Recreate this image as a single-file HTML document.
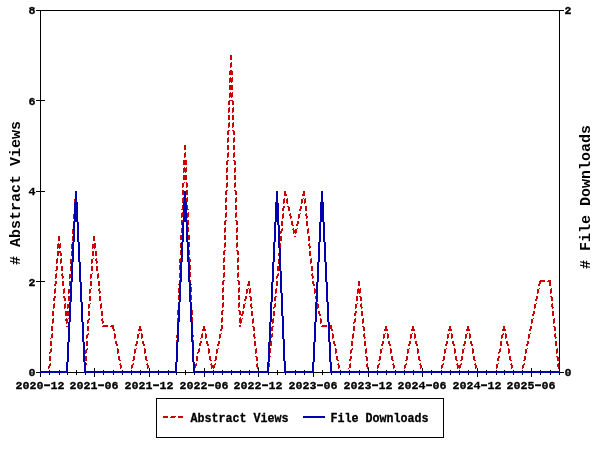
<!DOCTYPE html>
<html><head><meta charset="utf-8"><title>Abstract Views / File Downloads</title>
<style>
html,body{margin:0;padding:0;background:#fff;}
body{width:600px;height:450px;overflow:hidden;font-family:"Liberation Mono",monospace;}
svg{display:block;}
text{font-family:"Liberation Mono",monospace;fill:#000;stroke:#000;stroke-width:0.3px;stroke-linejoin:round;}
.t{font-weight:bold;font-size:11.9px;}
.d{font-weight:bold;font-size:11.7px;}
.h{font-weight:normal;font-size:21px;}
.g{font-weight:bold;font-size:15px;stroke-width:0;}
</style></head><body>
<svg width="600" height="450" viewBox="0 0 600 450">
<rect x="0" y="0" width="600" height="450" fill="#ffffff"/>
<g shape-rendering="crispEdges">
<path fill="#000" d="M40 10h520v1h-520zM40 10h1v367h-1zM559 10h1v363h-1zM40 372h520v1h-520zM36 281h9v1h-9zM36 191h9v1h-9zM36 100h9v1h-9zM36 372h4v1h-4zM36 10h4v1h-4zM560 10h4v1h-4zM560 372h4v1h-4zM40 368h1v9h-1zM49 370h1v5h-1zM59 370h1v5h-1zM67 370h1v5h-1zM76 370h1v5h-1zM85 370h1v5h-1zM94 368h1v9h-1zM103 370h1v5h-1zM113 370h1v5h-1zM122 370h1v5h-1zM131 370h1v5h-1zM140 370h1v5h-1zM149 368h1v9h-1zM158 370h1v5h-1zM168 370h1v5h-1zM176 370h1v5h-1zM185 370h1v5h-1zM194 370h1v5h-1zM204 368h1v9h-1zM213 370h1v5h-1zM222 370h1v5h-1zM231 370h1v5h-1zM240 370h1v5h-1zM249 370h1v5h-1zM258 368h1v9h-1zM268 370h1v5h-1zM277 370h1v5h-1zM285 370h1v5h-1zM295 370h1v5h-1zM304 370h1v5h-1zM313 368h1v9h-1zM322 370h1v5h-1zM331 370h1v5h-1zM340 370h1v5h-1zM349 370h1v5h-1zM359 370h1v5h-1zM368 368h1v9h-1zM377 370h1v5h-1zM386 370h1v5h-1zM395 370h1v5h-1zM404 370h1v5h-1zM413 370h1v5h-1zM422 368h1v9h-1zM431 370h1v5h-1zM441 370h1v5h-1zM450 370h1v5h-1zM459 370h1v5h-1zM468 370h1v5h-1zM477 368h1v9h-1zM486 370h1v5h-1zM496 370h1v5h-1zM504 370h1v5h-1zM513 370h1v5h-1zM522 370h1v5h-1zM531 368h1v9h-1zM540 370h1v5h-1zM550 370h1v5h-1zM559 370h1v5h-1z"/>
<path fill="#cc0000" d="M230 55h2v5h-2zM231 62h1v1h-1zM230 63h2v4h-2zM230 67h1v1h-1zM230 70h2v1h-2zM229 71h4v4h-4zM230 77h1v1h-1zM232 77h1v1h-1zM229 78h4v4h-4zM229 82h1v1h-1zM231 82h1v1h-1zM229 85h4v5h-4zM230 92h1v1h-1zM232 92h1v1h-1zM229 93h4v4h-4zM229 97h1v1h-1zM231 97h1v1h-1zM229 100h4v1h-4zM228 101h2v4h-2zM232 101h2v4h-2zM229 107h1v1h-1zM233 107h1v1h-1zM228 108h2v4h-2zM232 108h2v4h-2zM228 112h1v1h-1zM232 112h1v1h-1zM228 115h2v5h-2zM232 115h2v5h-2zM229 122h1v1h-1zM233 122h1v1h-1zM228 123h2v4h-2zM232 123h2v4h-2zM228 127h1v1h-1zM232 127h1v1h-1zM228 130h2v1h-2zM232 130h2v1h-2zM227 131h2v4h-2zM233 131h2v4h-2zM228 137h1v1h-1zM234 137h1v1h-1zM227 138h2v4h-2zM233 138h2v4h-2zM227 142h1v1h-1zM233 142h1v1h-1zM184 145h2v5h-2zM227 145h2v5h-2zM233 145h2v5h-2zM185 152h1v1h-1zM228 152h1v1h-1zM234 152h1v1h-1zM184 153h2v4h-2zM227 153h2v4h-2zM233 153h2v4h-2zM184 157h1v1h-1zM227 157h1v1h-1zM233 157h1v1h-1zM183 160h4v5h-4zM227 160h2v1h-2zM233 160h2v1h-2zM226 161h2v4h-2zM234 161h2v4h-2zM184 167h1v1h-1zM186 167h1v1h-1zM227 167h1v1h-1zM235 167h1v1h-1zM183 168h4v4h-4zM226 168h2v4h-2zM234 168h2v4h-2zM183 172h1v1h-1zM185 172h1v1h-1zM226 172h1v1h-1zM234 172h1v1h-1zM183 175h4v5h-4zM226 175h2v5h-2zM234 175h2v5h-2zM184 182h1v1h-1zM186 182h1v1h-1zM227 182h1v1h-1zM235 182h1v1h-1zM182 183h2v4h-2zM186 183h2v4h-2zM226 183h2v4h-2zM234 183h2v4h-2zM182 187h1v1h-1zM186 187h1v1h-1zM226 187h1v1h-1zM234 187h1v1h-1zM182 190h2v5h-2zM186 190h2v5h-2zM226 190h2v1h-2zM234 190h2v1h-2zM75 191h2v5h-2zM225 191h2v4h-2zM235 191h2v4h-2zM284 191h2v3h-2zM303 191h2v3h-2zM284 194h3v2h-3zM302 194h3v2h-3zM183 197h1v1h-1zM187 197h1v1h-1zM226 197h1v1h-1zM236 197h1v1h-1zM76 198h1v1h-1zM182 198h2v4h-2zM186 198h2v4h-2zM225 198h2v4h-2zM235 198h2v4h-2zM284 198h1v1h-1zM287 198h1v1h-1zM303 198h1v1h-1zM305 198h1v1h-1zM74 199h3v3h-3zM283 199h2v4h-2zM286 199h2v4h-2zM301 199h2v4h-2zM304 199h2v4h-2zM74 202h4v1h-4zM182 202h1v1h-1zM186 202h1v1h-1zM225 202h1v1h-1zM235 202h1v1h-1zM74 203h1v1h-1zM76 203h1v1h-1zM283 203h1v1h-1zM287 203h1v1h-1zM301 203h1v1h-1zM304 203h1v1h-1zM182 205h2v4h-2zM186 205h2v4h-2zM225 205h2v5h-2zM235 205h2v5h-2zM74 206h4v5h-4zM283 206h2v2h-2zM287 206h2v1h-2zM300 206h2v3h-2zM305 206h2v5h-2zM288 207h2v4h-2zM282 208h2v3h-2zM181 209h2v1h-2zM187 209h2v1h-2zM299 209h2v2h-2zM182 212h1v1h-1zM188 212h1v1h-1zM226 212h1v1h-1zM236 212h1v1h-1zM75 213h1v1h-1zM77 213h1v1h-1zM181 213h2v4h-2zM187 213h2v4h-2zM225 213h2v4h-2zM235 213h2v4h-2zM283 213h1v1h-1zM290 213h1v1h-1zM300 213h1v1h-1zM306 213h1v1h-1zM73 214h2v4h-2zM76 214h2v4h-2zM282 214h2v4h-2zM289 214h2v2h-2zM298 214h2v4h-2zM305 214h2v2h-2zM290 216h2v2h-2zM306 216h2v2h-2zM181 217h1v1h-1zM187 217h1v1h-1zM225 217h1v1h-1zM235 217h1v1h-1zM73 218h1v1h-1zM76 218h1v1h-1zM282 218h1v1h-1zM290 218h1v1h-1zM298 218h1v1h-1zM306 218h1v1h-1zM181 220h2v5h-2zM187 220h2v5h-2zM225 220h2v1h-2zM235 220h2v1h-2zM73 221h2v5h-2zM76 221h2v1h-2zM224 221h2v4h-2zM236 221h2v4h-2zM281 221h2v5h-2zM291 221h2v4h-2zM297 221h2v3h-2zM306 221h2v5h-2zM77 222h2v4h-2zM296 224h2v2h-2zM292 225h2v1h-2zM182 227h1v1h-1zM188 227h1v1h-1zM225 227h1v1h-1zM237 227h1v1h-1zM74 228h1v1h-1zM78 228h1v1h-1zM181 228h2v4h-2zM187 228h2v4h-2zM224 228h2v4h-2zM236 228h2v4h-2zM282 228h1v1h-1zM293 228h1v1h-1zM297 228h1v1h-1zM308 228h1v1h-1zM72 229h2v4h-2zM77 229h2v4h-2zM281 229h2v2h-2zM292 229h2v1h-2zM295 229h2v1h-2zM307 229h2v4h-2zM293 230h4v3h-4zM280 231h2v2h-2zM181 232h1v1h-1zM187 232h1v1h-1zM224 232h1v1h-1zM236 232h1v1h-1zM72 233h1v1h-1zM77 233h1v1h-1zM280 233h1v1h-1zM293 233h1v1h-1zM295 233h1v1h-1zM307 233h1v1h-1zM180 235h2v5h-2zM188 235h2v5h-2zM224 235h2v5h-2zM236 235h2v5h-2zM58 236h2v5h-2zM72 236h2v5h-2zM77 236h2v5h-2zM93 236h2v5h-2zM280 236h2v5h-2zM294 236h2v1h-2zM308 236h2v5h-2zM181 242h1v1h-1zM189 242h1v1h-1zM225 242h1v1h-1zM237 242h1v1h-1zM58 243h1v1h-1zM60 243h1v1h-1zM73 243h1v1h-1zM79 243h1v1h-1zM94 243h2v1h-2zM180 243h2v4h-2zM188 243h2v4h-2zM224 243h2v4h-2zM236 243h2v4h-2zM280 243h1v1h-1zM309 243h1v1h-1zM57 244h4v4h-4zM71 244h2v4h-2zM78 244h2v4h-2zM92 244h4v4h-4zM279 244h2v4h-2zM308 244h2v2h-2zM309 246h2v2h-2zM180 247h1v1h-1zM188 247h1v1h-1zM224 247h1v1h-1zM236 247h1v1h-1zM57 248h1v1h-1zM59 248h1v1h-1zM71 248h1v1h-1zM78 248h1v1h-1zM92 248h1v1h-1zM94 248h1v1h-1zM279 248h1v1h-1zM309 248h1v1h-1zM180 250h2v5h-2zM188 250h2v5h-2zM224 250h2v1h-2zM236 250h2v1h-2zM57 251h4v2h-4zM71 251h2v5h-2zM78 251h2v5h-2zM92 251h2v5h-2zM95 251h2v5h-2zM223 251h2v4h-2zM237 251h2v4h-2zM279 251h2v2h-2zM309 251h2v5h-2zM57 253h2v3h-2zM60 253h2v3h-2zM278 253h2v3h-2zM181 257h1v1h-1zM189 257h1v1h-1zM224 257h1v1h-1zM238 257h1v1h-1zM57 258h1v1h-1zM61 258h1v1h-1zM72 258h1v1h-1zM79 258h1v1h-1zM93 258h1v1h-1zM96 258h1v1h-1zM180 258h2v1h-2zM188 258h2v1h-2zM223 258h2v4h-2zM237 258h2v4h-2zM279 258h1v1h-1zM311 258h1v1h-1zM56 259h2v4h-2zM60 259h2v4h-2zM70 259h2v4h-2zM78 259h2v3h-2zM91 259h2v4h-2zM95 259h2v2h-2zM179 259h2v3h-2zM189 259h2v3h-2zM278 259h2v4h-2zM310 259h2v4h-2zM96 261h2v2h-2zM79 262h2v1h-2zM179 262h1v1h-1zM189 262h1v1h-1zM223 262h1v1h-1zM237 262h1v1h-1zM56 263h1v1h-1zM60 263h1v1h-1zM70 263h1v1h-1zM79 263h1v1h-1zM91 263h1v1h-1zM96 263h1v1h-1zM278 263h1v1h-1zM310 263h1v1h-1zM179 265h2v5h-2zM189 265h2v5h-2zM223 265h2v5h-2zM237 265h2v5h-2zM56 266h2v4h-2zM61 266h2v5h-2zM70 266h2v5h-2zM79 266h2v5h-2zM91 266h2v5h-2zM96 266h2v5h-2zM277 266h2v5h-2zM311 266h2v5h-2zM55 270h2v1h-2zM180 272h1v1h-1zM190 272h1v1h-1zM224 272h1v1h-1zM238 272h1v1h-1zM56 273h1v1h-1zM62 273h1v1h-1zM71 273h1v1h-1zM80 273h1v1h-1zM92 273h1v1h-1zM98 273h1v1h-1zM179 273h2v4h-2zM189 273h2v4h-2zM223 273h2v4h-2zM237 273h2v4h-2zM278 273h1v1h-1zM312 273h1v1h-1zM55 274h2v4h-2zM61 274h2v2h-2zM69 274h2v4h-2zM79 274h2v4h-2zM90 274h2v4h-2zM97 274h2v4h-2zM277 274h2v2h-2zM311 274h2v2h-2zM62 276h2v2h-2zM276 276h2v2h-2zM312 276h2v2h-2zM179 277h1v1h-1zM189 277h1v1h-1zM223 277h1v1h-1zM237 277h1v1h-1zM55 278h1v1h-1zM62 278h1v1h-1zM69 278h1v1h-1zM79 278h1v1h-1zM90 278h1v1h-1zM97 278h1v1h-1zM276 278h1v1h-1zM312 278h1v1h-1zM179 280h2v4h-2zM189 280h2v4h-2zM223 280h2v1h-2zM237 280h2v1h-2zM540 280h5v1h-5zM548 280h3v1h-3zM55 281h2v3h-2zM62 281h2v5h-2zM69 281h2v5h-2zM79 281h2v1h-2zM90 281h2v5h-2zM98 281h2v5h-2zM222 281h2v4h-2zM238 281h2v4h-2zM248 281h2v3h-2zM276 281h2v5h-2zM312 281h2v3h-2zM358 281h2v5h-2zM539 281h6v1h-6zM547 281h4v1h-4zM80 282h2v4h-2zM539 282h2v2h-2zM549 282h2v4h-2zM54 284h2v2h-2zM178 284h2v1h-2zM190 284h2v1h-2zM247 284h3v2h-3zM313 284h2v2h-2zM538 284h2v2h-2zM179 287h1v1h-1zM191 287h1v1h-1zM223 287h1v1h-1zM239 287h1v1h-1zM55 288h1v1h-1zM64 288h1v1h-1zM70 288h1v1h-1zM81 288h1v1h-1zM91 288h1v1h-1zM99 288h1v1h-1zM178 288h2v4h-2zM190 288h2v4h-2zM222 288h2v4h-2zM238 288h2v4h-2zM248 288h1v1h-1zM250 288h1v1h-1zM276 288h1v1h-1zM314 288h1v1h-1zM358 288h1v1h-1zM360 288h1v1h-1zM539 288h1v1h-1zM551 288h1v1h-1zM54 289h2v4h-2zM63 289h2v4h-2zM68 289h2v4h-2zM80 289h2v4h-2zM89 289h2v4h-2zM98 289h2v2h-2zM246 289h2v4h-2zM249 289h2v4h-2zM275 289h2v4h-2zM314 289h2v4h-2zM357 289h4v4h-4zM537 289h2v4h-2zM550 289h2v4h-2zM99 291h2v2h-2zM178 292h1v1h-1zM190 292h1v1h-1zM222 292h1v1h-1zM238 292h1v1h-1zM54 293h1v1h-1zM63 293h1v1h-1zM68 293h1v1h-1zM80 293h1v1h-1zM89 293h1v1h-1zM99 293h1v1h-1zM246 293h1v1h-1zM249 293h1v1h-1zM275 293h1v1h-1zM314 293h1v1h-1zM357 293h1v1h-1zM359 293h1v1h-1zM537 293h1v1h-1zM550 293h1v1h-1zM178 295h2v5h-2zM190 295h2v5h-2zM222 295h2v5h-2zM238 295h2v5h-2zM54 296h2v2h-2zM63 296h2v2h-2zM68 296h2v5h-2zM80 296h2v5h-2zM89 296h2v5h-2zM99 296h2v5h-2zM245 296h2v3h-2zM249 296h2v1h-2zM275 296h2v1h-2zM315 296h2v3h-2zM356 296h2v5h-2zM359 296h2v1h-2zM536 296h2v3h-2zM550 296h2v1h-2zM250 297h2v4h-2zM274 297h2v4h-2zM360 297h2v4h-2zM551 297h2v4h-2zM53 298h2v3h-2zM64 298h2v3h-2zM244 299h2v2h-2zM316 299h2v2h-2zM535 299h2v2h-2zM179 302h1v1h-1zM191 302h1v1h-1zM223 302h1v1h-1zM239 302h1v1h-1zM54 303h1v1h-1zM65 303h1v1h-1zM69 303h1v1h-1zM82 303h1v1h-1zM90 303h1v1h-1zM101 303h1v1h-1zM178 303h2v4h-2zM190 303h2v4h-2zM222 303h2v4h-2zM238 303h2v4h-2zM245 303h1v1h-1zM251 303h1v1h-1zM275 303h1v1h-1zM317 303h1v1h-1zM357 303h1v1h-1zM361 303h1v1h-1zM536 303h1v1h-1zM552 303h1v1h-1zM53 304h2v4h-2zM64 304h2v4h-2zM67 304h2v4h-2zM81 304h2v4h-2zM88 304h2v4h-2zM100 304h2v4h-2zM243 304h2v4h-2zM250 304h2v3h-2zM274 304h2v3h-2zM317 304h2v4h-2zM355 304h2v4h-2zM360 304h2v3h-2zM534 304h2v4h-2zM551 304h2v3h-2zM178 307h1v1h-1zM190 307h1v1h-1zM222 307h1v1h-1zM238 307h1v1h-1zM251 307h2v1h-2zM273 307h2v1h-2zM361 307h2v1h-2zM552 307h2v1h-2zM53 308h1v1h-1zM64 308h1v1h-1zM67 308h1v1h-1zM81 308h1v1h-1zM88 308h1v1h-1zM100 308h1v1h-1zM243 308h1v1h-1zM251 308h1v1h-1zM273 308h1v1h-1zM317 308h1v1h-1zM355 308h1v1h-1zM361 308h1v1h-1zM534 308h1v1h-1zM552 308h1v1h-1zM177 310h2v5h-2zM191 310h2v5h-2zM222 310h2v1h-2zM238 310h2v1h-2zM52 311h2v5h-2zM65 311h4v5h-4zM81 311h2v5h-2zM88 311h2v5h-2zM101 311h2v5h-2zM221 311h2v4h-2zM239 311h2v3h-2zM242 311h2v3h-2zM251 311h2v5h-2zM273 311h2v5h-2zM318 311h2v3h-2zM355 311h2v2h-2zM361 311h2v5h-2zM533 311h2v3h-2zM552 311h2v5h-2zM354 313h2v3h-2zM239 314h4v1h-4zM319 314h2v2h-2zM532 314h2v2h-2zM241 315h2v1h-2zM178 317h1v1h-1zM192 317h1v1h-1zM222 317h1v1h-1zM240 317h1v1h-1zM53 318h1v1h-1zM66 318h1v1h-1zM68 318h1v1h-1zM82 318h1v1h-1zM89 318h1v1h-1zM102 318h1v1h-1zM177 318h2v4h-2zM191 318h2v4h-2zM221 318h2v4h-2zM239 318h2v1h-2zM242 318h1v1h-1zM253 318h1v1h-1zM273 318h1v1h-1zM320 318h1v1h-1zM355 318h1v1h-1zM363 318h1v1h-1zM533 318h1v1h-1zM554 318h1v1h-1zM52 319h2v4h-2zM65 319h3v2h-3zM81 319h2v3h-2zM88 319h2v1h-2zM101 319h2v2h-2zM239 319h3v4h-3zM252 319h2v4h-2zM272 319h2v4h-2zM320 319h2v4h-2zM354 319h2v3h-2zM362 319h2v4h-2zM531 319h2v4h-2zM553 319h2v4h-2zM87 320h2v3h-2zM66 321h2v2h-2zM102 321h2v2h-2zM82 322h2v1h-2zM177 322h1v1h-1zM191 322h1v1h-1zM221 322h1v1h-1zM353 322h2v1h-2zM52 323h1v1h-1zM66 323h1v1h-1zM82 323h1v1h-1zM87 323h1v1h-1zM102 323h1v1h-1zM240 323h1v1h-1zM252 323h1v1h-1zM272 323h1v1h-1zM320 323h1v1h-1zM353 323h1v1h-1zM362 323h1v1h-1zM531 323h1v1h-1zM553 323h1v1h-1zM103 325h5v1h-5zM111 325h3v1h-3zM177 325h2v5h-2zM191 325h2v5h-2zM221 325h2v4h-2zM239 325h2v2h-2zM322 325h5v1h-5zM330 325h2v1h-2zM51 326h2v5h-2zM66 326h2v1h-2zM82 326h2v5h-2zM87 326h2v5h-2zM102 326h6v1h-6zM110 326h4v1h-4zM139 326h2v3h-2zM203 326h2v3h-2zM252 326h2v1h-2zM272 326h2v1h-2zM321 326h6v1h-6zM329 326h3v1h-3zM353 326h2v5h-2zM362 326h2v1h-2zM385 326h2v3h-2zM412 326h2v3h-2zM449 326h2v3h-2zM467 326h2v3h-2zM503 326h2v3h-2zM530 326h2v3h-2zM553 326h2v1h-2zM112 327h2v2h-2zM253 327h2v4h-2zM271 327h2v4h-2zM330 327h2v2h-2zM363 327h2v4h-2zM554 327h2v4h-2zM113 329h2v2h-2zM138 329h4v2h-4zM202 329h4v2h-4zM220 329h2v2h-2zM331 329h2v2h-2zM384 329h4v2h-4zM411 329h4v2h-4zM448 329h4v2h-4zM466 329h4v2h-4zM502 329h4v2h-4zM529 329h2v2h-2zM178 332h1v1h-1zM192 332h1v1h-1zM52 333h1v1h-1zM83 333h1v1h-1zM88 333h1v1h-1zM114 333h1v1h-1zM139 333h1v1h-1zM141 333h1v1h-1zM177 333h2v2h-2zM191 333h2v2h-2zM202 333h1v1h-1zM205 333h1v1h-1zM221 333h1v1h-1zM254 333h1v1h-1zM272 333h1v1h-1zM332 333h1v1h-1zM353 333h1v1h-1zM364 333h1v1h-1zM385 333h1v1h-1zM387 333h1v1h-1zM412 333h1v1h-1zM414 333h1v1h-1zM449 333h1v1h-1zM451 333h1v1h-1zM467 333h1v1h-1zM469 333h1v1h-1zM503 333h1v1h-1zM505 333h1v1h-1zM530 333h1v1h-1zM555 333h1v1h-1zM51 334h2v4h-2zM82 334h2v4h-2zM87 334h2v1h-2zM114 334h2v4h-2zM137 334h2v4h-2zM141 334h2v4h-2zM201 334h2v4h-2zM205 334h2v4h-2zM219 334h2v4h-2zM253 334h2v3h-2zM271 334h2v3h-2zM332 334h2v4h-2zM352 334h2v4h-2zM363 334h2v3h-2zM383 334h2v4h-2zM387 334h2v4h-2zM410 334h2v4h-2zM414 334h2v4h-2zM447 334h2v4h-2zM451 334h2v4h-2zM465 334h2v4h-2zM469 334h2v4h-2zM502 334h2v1h-2zM505 334h2v4h-2zM528 334h2v4h-2zM554 334h2v3h-2zM86 335h2v3h-2zM176 335h2v2h-2zM192 335h2v2h-2zM501 335h2v3h-2zM176 337h1v1h-1zM192 337h1v1h-1zM254 337h2v1h-2zM270 337h2v1h-2zM364 337h2v1h-2zM555 337h2v1h-2zM50 338h1v1h-1zM82 338h1v1h-1zM86 338h1v1h-1zM114 338h1v1h-1zM137 338h1v1h-1zM141 338h1v1h-1zM200 338h1v1h-1zM205 338h1v1h-1zM219 338h1v1h-1zM254 338h1v1h-1zM270 338h1v1h-1zM332 338h1v1h-1zM352 338h1v1h-1zM364 338h1v1h-1zM383 338h1v1h-1zM387 338h1v1h-1zM410 338h1v1h-1zM414 338h1v1h-1zM447 338h1v1h-1zM451 338h1v1h-1zM465 338h1v1h-1zM469 338h1v1h-1zM501 338h1v1h-1zM505 338h1v1h-1zM528 338h1v1h-1zM555 338h1v1h-1zM176 340h2v5h-2zM192 340h2v5h-2zM50 341h2v5h-2zM82 341h2v1h-2zM86 341h2v5h-2zM115 341h2v3h-2zM136 341h2v3h-2zM142 341h2v3h-2zM200 341h2v2h-2zM206 341h2v3h-2zM218 341h2v3h-2zM254 341h2v5h-2zM270 341h2v5h-2zM333 341h2v3h-2zM351 341h2v5h-2zM364 341h2v5h-2zM382 341h2v3h-2zM388 341h2v3h-2zM409 341h2v3h-2zM415 341h2v3h-2zM446 341h2v3h-2zM452 341h2v3h-2zM464 341h2v3h-2zM470 341h2v3h-2zM500 341h2v5h-2zM506 341h2v3h-2zM527 341h2v3h-2zM555 341h2v5h-2zM83 342h2v4h-2zM199 343h2v3h-2zM116 344h2v2h-2zM135 344h2v2h-2zM143 344h2v2h-2zM207 344h2v2h-2zM217 344h2v2h-2zM334 344h2v2h-2zM381 344h2v2h-2zM389 344h2v2h-2zM408 344h2v2h-2zM416 344h2v2h-2zM445 344h2v2h-2zM453 344h2v2h-2zM463 344h2v2h-2zM471 344h2v2h-2zM507 344h2v2h-2zM526 344h2v2h-2zM177 347h1v1h-1zM193 347h1v1h-1zM51 348h1v1h-1zM84 348h1v1h-1zM87 348h1v1h-1zM117 348h1v1h-1zM136 348h1v1h-1zM144 348h1v1h-1zM176 348h2v4h-2zM192 348h2v4h-2zM199 348h1v1h-1zM208 348h1v1h-1zM218 348h1v1h-1zM256 348h1v1h-1zM270 348h1v1h-1zM335 348h1v1h-1zM352 348h1v1h-1zM366 348h1v1h-1zM382 348h1v1h-1zM390 348h1v1h-1zM409 348h1v1h-1zM417 348h1v1h-1zM446 348h1v1h-1zM454 348h1v1h-1zM464 348h1v1h-1zM472 348h1v1h-1zM500 348h1v1h-1zM508 348h1v1h-1zM527 348h1v1h-1zM557 348h1v1h-1zM50 349h2v3h-2zM83 349h2v1h-2zM86 349h2v1h-2zM117 349h2v4h-2zM134 349h2v4h-2zM144 349h2v4h-2zM198 349h2v3h-2zM208 349h2v4h-2zM216 349h2v4h-2zM255 349h2v4h-2zM269 349h2v4h-2zM335 349h2v4h-2zM351 349h2v1h-2zM365 349h2v4h-2zM380 349h2v4h-2zM390 349h2v4h-2zM407 349h2v4h-2zM417 349h2v4h-2zM444 349h2v4h-2zM454 349h2v4h-2zM462 349h2v4h-2zM472 349h2v4h-2zM499 349h2v3h-2zM508 349h2v4h-2zM525 349h2v4h-2zM556 349h2v4h-2zM83 350h4v3h-4zM350 350h2v3h-2zM49 352h2v1h-2zM176 352h1v1h-1zM192 352h1v1h-1zM197 352h2v1h-2zM498 352h2v1h-2zM49 353h1v1h-1zM83 353h1v1h-1zM85 353h1v1h-1zM117 353h1v1h-1zM134 353h1v1h-1zM144 353h1v1h-1zM197 353h1v1h-1zM208 353h1v1h-1zM216 353h1v1h-1zM255 353h1v1h-1zM269 353h1v1h-1zM335 353h1v1h-1zM350 353h1v1h-1zM365 353h1v1h-1zM380 353h1v1h-1zM390 353h1v1h-1zM407 353h1v1h-1zM417 353h1v1h-1zM444 353h1v1h-1zM454 353h1v1h-1zM462 353h1v1h-1zM472 353h1v1h-1zM498 353h1v1h-1zM508 353h1v1h-1zM525 353h1v1h-1zM556 353h1v1h-1zM176 355h2v5h-2zM192 355h2v5h-2zM49 356h2v5h-2zM83 356h4v5h-4zM118 356h2v4h-2zM133 356h2v4h-2zM145 356h2v4h-2zM196 356h2v5h-2zM209 356h2v4h-2zM215 356h2v4h-2zM255 356h2v1h-2zM269 356h2v1h-2zM336 356h2v4h-2zM350 356h2v3h-2zM365 356h2v1h-2zM379 356h2v4h-2zM391 356h2v4h-2zM406 356h2v4h-2zM418 356h2v4h-2zM443 356h2v4h-2zM455 356h2v4h-2zM461 356h2v4h-2zM473 356h2v4h-2zM498 356h2v2h-2zM509 356h2v4h-2zM524 356h2v4h-2zM556 356h2v1h-2zM256 357h2v4h-2zM268 357h2v4h-2zM366 357h2v4h-2zM557 357h2v4h-2zM497 358h2v3h-2zM349 359h2v2h-2zM119 360h2v1h-2zM132 360h2v1h-2zM146 360h2v1h-2zM210 360h2v1h-2zM214 360h2v1h-2zM337 360h2v1h-2zM378 360h2v1h-2zM392 360h2v1h-2zM405 360h2v1h-2zM419 360h2v1h-2zM442 360h2v1h-2zM456 360h2v1h-2zM460 360h2v1h-2zM474 360h2v1h-2zM510 360h2v1h-2zM523 360h2v1h-2zM176 362h1v1h-1zM194 362h1v1h-1zM50 363h1v1h-1zM85 363h2v1h-2zM120 363h1v1h-1zM133 363h1v1h-1zM147 363h1v1h-1zM175 363h2v4h-2zM193 363h2v1h-2zM196 363h1v1h-1zM211 363h1v1h-1zM215 363h1v1h-1zM257 363h1v1h-1zM269 363h1v1h-1zM338 363h1v1h-1zM350 363h1v1h-1zM367 363h1v1h-1zM379 363h1v1h-1zM393 363h1v1h-1zM406 363h1v1h-1zM420 363h1v1h-1zM443 363h1v1h-1zM457 363h1v1h-1zM461 363h1v1h-1zM475 363h1v1h-1zM498 363h1v1h-1zM511 363h1v1h-1zM524 363h1v1h-1zM558 363h1v1h-1zM49 364h2v2h-2zM84 364h3v1h-3zM119 364h2v1h-2zM132 364h2v1h-2zM146 364h2v1h-2zM193 364h4v2h-4zM210 364h2v1h-2zM214 364h2v1h-2zM256 364h2v3h-2zM268 364h2v3h-2zM337 364h2v1h-2zM349 364h2v4h-2zM366 364h2v3h-2zM378 364h2v1h-2zM392 364h2v1h-2zM405 364h2v1h-2zM419 364h2v1h-2zM442 364h2v1h-2zM456 364h2v1h-2zM460 364h2v1h-2zM474 364h2v1h-2zM496 364h2v4h-2zM510 364h2v1h-2zM523 364h2v1h-2zM557 364h2v3h-2zM84 365h2v3h-2zM120 365h2v3h-2zM131 365h2v3h-2zM147 365h2v3h-2zM211 365h4v3h-4zM338 365h2v3h-2zM377 365h2v3h-2zM393 365h2v3h-2zM404 365h2v3h-2zM420 365h2v3h-2zM441 365h2v3h-2zM457 365h4v3h-4zM475 365h2v3h-2zM511 365h2v3h-2zM522 365h2v3h-2zM48 366h2v2h-2zM193 366h3v2h-3zM175 367h1v1h-1zM257 367h2v1h-2zM267 367h2v1h-2zM367 367h2v1h-2zM558 367h2v1h-2zM48 368h1v1h-1zM84 368h1v1h-1zM120 368h1v1h-1zM131 368h1v1h-1zM147 368h1v1h-1zM194 368h1v1h-1zM211 368h1v1h-1zM213 368h1v1h-1zM257 368h1v1h-1zM267 368h1v1h-1zM338 368h1v1h-1zM348 368h1v1h-1zM367 368h1v1h-1zM377 368h1v1h-1zM393 368h1v1h-1zM404 368h1v1h-1zM420 368h1v1h-1zM441 368h1v1h-1zM457 368h1v1h-1zM459 368h1v1h-1zM475 368h1v1h-1zM496 368h1v1h-1zM511 368h1v1h-1zM522 368h1v1h-1zM558 368h1v1h-1zM175 370h2v3h-2zM193 370h2v3h-2zM48 371h2v2h-2zM84 371h2v2h-2zM121 371h6v2h-6zM130 371h2v1h-2zM148 371h6v2h-6zM157 371h6v1h-6zM166 371h7v1h-7zM212 371h2v2h-2zM257 371h6v2h-6zM266 371h3v1h-3zM339 371h6v2h-6zM348 371h2v1h-2zM367 371h6v2h-6zM376 371h2v1h-2zM394 371h6v2h-6zM403 371h2v1h-2zM421 371h6v2h-6zM430 371h6v1h-6zM439 371h3v1h-3zM458 371h2v2h-2zM476 371h6v2h-6zM485 371h6v1h-6zM494 371h3v1h-3zM512 371h6v2h-6zM521 371h2v1h-2zM558 371h2v2h-2zM129 372h3v1h-3zM156 372h7v1h-7zM165 372h8v1h-8zM265 372h4v1h-4zM347 372h3v1h-3zM375 372h3v1h-3zM402 372h3v1h-3zM429 372h7v1h-7zM438 372h4v1h-4zM484 372h7v1h-7zM493 372h4v1h-4zM520 372h3v1h-3z"/>
<path fill="#000" d="M559 10h1v363h-1zM560 10h4v1h-4zM560 372h4v1h-4z"/>
<path fill="#0000b0" d="M75 191h2v11h-2zM184 191h2v11h-2zM276 191h2v11h-2zM321 191h2v11h-2zM74 202h4v20h-4zM183 202h4v20h-4zM275 202h3v1h-3zM320 202h4v20h-4zM275 203h4v19h-4zM73 222h2v20h-2zM77 222h2v20h-2zM182 222h2v20h-2zM186 222h2v20h-2zM274 222h2v20h-2zM277 222h2v3h-2zM319 222h2v20h-2zM323 222h2v20h-2zM278 225h2v23h-2zM72 242h2v20h-2zM78 242h2v20h-2zM181 242h2v20h-2zM187 242h2v20h-2zM273 242h2v20h-2zM318 242h2v20h-2zM324 242h2v20h-2zM279 248h2v23h-2zM71 262h2v20h-2zM79 262h2v20h-2zM180 262h2v20h-2zM188 262h2v20h-2zM272 262h2v20h-2zM317 262h2v20h-2zM325 262h2v20h-2zM280 271h2v22h-2zM70 282h2v20h-2zM80 282h2v20h-2zM179 282h2v20h-2zM189 282h2v20h-2zM271 282h2v20h-2zM316 282h2v20h-2zM326 282h2v20h-2zM281 293h2v23h-2zM69 302h2v20h-2zM81 302h2v20h-2zM178 302h2v20h-2zM190 302h2v20h-2zM270 302h2v20h-2zM315 302h2v20h-2zM327 302h2v20h-2zM282 316h2v23h-2zM68 322h2v20h-2zM82 322h2v20h-2zM177 322h2v20h-2zM191 322h2v20h-2zM269 322h2v20h-2zM314 322h2v20h-2zM328 322h2v20h-2zM283 339h2v22h-2zM67 342h2v20h-2zM83 342h2v20h-2zM176 342h2v20h-2zM192 342h2v20h-2zM268 342h2v20h-2zM313 342h2v20h-2zM329 342h2v20h-2zM284 361h2v10h-2zM66 362h2v9h-2zM84 362h2v9h-2zM175 362h2v9h-2zM193 362h2v9h-2zM267 362h2v9h-2zM312 362h2v9h-2zM330 362h2v9h-2zM40 371h28v2h-28zM84 371h93v2h-93zM193 371h76v2h-76zM284 371h30v2h-30zM330 371h230v2h-230z"/>
<path fill="#000" d="M156 398h288v1h-288zM156 437h288v1h-288zM156 398h1v40h-1zM443 398h1v40h-1z"/>
<path fill="#cc0000" d="M163 416h5v2h-5zM171 416h5v1h-5zM178 416h5v2h-5zM170 417h5v1h-5z"/>
<path fill="#0000b0" d="M303 416h22v2h-22z"/>
</g>
<g style="filter:grayscale(1)">
<text class="d" y="388.7"><tspan x="15.45 22.45 29.45 36.45">2020</tspan><tspan class="h" x="40.73" dy="2.58">-</tspan><tspan x="50.45 57.45" dy="-2.58">12</tspan></text>
<text class="d" y="388.7"><tspan x="69.45 76.45 83.45 90.45">2021</tspan><tspan class="h" x="94.73" dy="2.58">-</tspan><tspan x="104.45 111.45" dy="-2.58">06</tspan></text>
<text class="d" y="388.7"><tspan x="124.45 131.45 138.45 145.45">2021</tspan><tspan class="h" x="149.73" dy="2.58">-</tspan><tspan x="159.45 166.45" dy="-2.58">12</tspan></text>
<text class="d" y="388.7"><tspan x="179.45 186.45 193.45 200.45">2022</tspan><tspan class="h" x="204.73" dy="2.58">-</tspan><tspan x="214.45 221.45" dy="-2.58">06</tspan></text>
<text class="d" y="388.7"><tspan x="233.45 240.45 247.45 254.45">2022</tspan><tspan class="h" x="258.73" dy="2.58">-</tspan><tspan x="268.45 275.45" dy="-2.58">12</tspan></text>
<text class="d" y="388.7"><tspan x="288.45 295.45 302.45 309.45">2023</tspan><tspan class="h" x="313.73" dy="2.58">-</tspan><tspan x="323.45 330.45" dy="-2.58">06</tspan></text>
<text class="d" y="388.7"><tspan x="343.45 350.45 357.45 364.45">2023</tspan><tspan class="h" x="368.73" dy="2.58">-</tspan><tspan x="378.45 385.45" dy="-2.58">12</tspan></text>
<text class="d" y="388.7"><tspan x="397.45 404.45 411.45 418.45">2024</tspan><tspan class="h" x="422.73" dy="2.58">-</tspan><tspan x="432.45 439.45" dy="-2.58">06</tspan></text>
<text class="d" y="388.7"><tspan x="452.45 459.45 466.45 473.45">2024</tspan><tspan class="h" x="477.73" dy="2.58">-</tspan><tspan x="487.45 494.45" dy="-2.58">12</tspan></text>
<text class="d" y="388.7"><tspan x="506.45 513.45 520.45 527.45">2025</tspan><tspan class="h" x="531.73" dy="2.58">-</tspan><tspan x="541.45 548.45" dy="-2.58">06</tspan></text>
<text class="d" x="28.6" y="375.55" textLength="7" lengthAdjust="spacingAndGlyphs">0</text>
<text class="d" x="28.6" y="285.55" textLength="7" lengthAdjust="spacingAndGlyphs">2</text>
<text class="d" x="28.6" y="194.55" textLength="7" lengthAdjust="spacingAndGlyphs">4</text>
<text class="d" x="28.6" y="104.55" textLength="7" lengthAdjust="spacingAndGlyphs">6</text>
<text class="d" x="28.6" y="13.55" textLength="7" lengthAdjust="spacingAndGlyphs">8</text>
<text class="d" x="564.6" y="13.6" textLength="7" lengthAdjust="spacingAndGlyphs">2</text>
<text class="d" x="564.6" y="375.55" textLength="7" lengthAdjust="spacingAndGlyphs">0</text>
<text class="t" x="190.5" y="421.8" textLength="98" lengthAdjust="spacingAndGlyphs">Abstract Views</text>
<text class="t" x="330.5" y="421.8" textLength="98" lengthAdjust="spacingAndGlyphs">File Downloads</text>
<text class="g" transform="translate(20 265) rotate(-90)" x="0" y="0" textLength="144" lengthAdjust="spacingAndGlyphs"># Abstract Views</text>
<text class="g" transform="translate(590 269) rotate(-90)" x="0" y="0" textLength="144" lengthAdjust="spacingAndGlyphs"># File Downloads</text>
</g>
</svg>
</body></html>
